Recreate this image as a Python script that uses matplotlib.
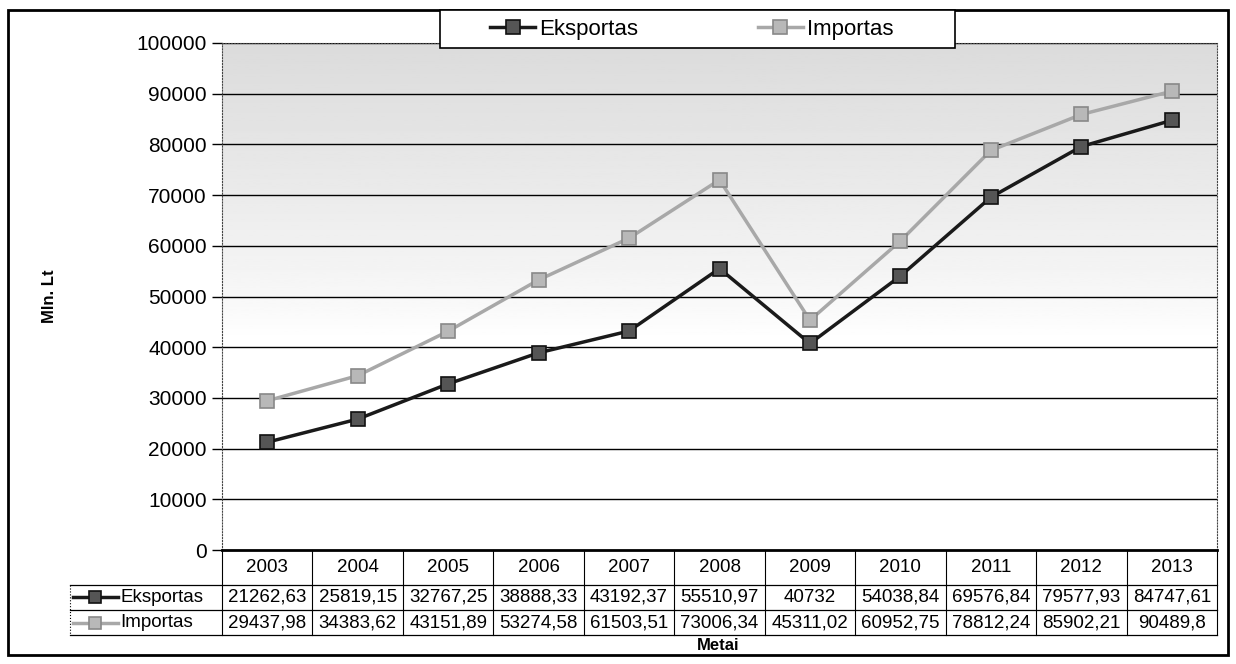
import matplotlib.pyplot as plt
from matplotlib.lines import Line2D
from matplotlib.patches import Rectangle
import numpy as np

plt.rcParams['font.family'] = ['Liberation Sans', 'DejaVu Sans']

years = ["2003", "2004", "2005", "2006", "2007", "2008", "2009", "2010", "2011", "2012", "2013"]
eksportas = [21262.63, 25819.15, 32767.25, 38888.33, 43192.37, 55510.97, 40732, 54038.84, 69576.84, 79577.93, 84747.61]
importas = [29437.98, 34383.62, 43151.89, 53274.58, 61503.51, 73006.34, 45311.02, 60952.75, 78812.24, 85902.21, 90489.8]
eks_labels = ["21262,63", "25819,15", "32767,25", "38888,33", "43192,37", "55510,97", "40732", "54038,84", "69576,84", "79577,93", "84747,61"]
imp_labels = ["29437,98", "34383,62", "43151,89", "53274,58", "61503,51", "73006,34", "45311,02", "60952,75", "78812,24", "85902,21", "90489,8"]
series_names = ["Eksportas", "Importas"]

W, H = 1236, 664
fig = plt.figure(figsize=(W / 100, H / 100), dpi=100)
ax = fig.add_axes([222 / W, 1 - 550 / H, (1217 - 222) / W, (550 - 43) / H])

x = np.arange(len(years))
ax.set_xlim(-0.5, len(years) - 0.5)
ax.set_ylim(0, 100000)

# shaded background, darker at the top, fading out towards the middle
grad = np.linspace(0, 1, 256).reshape(-1, 1)
shade = np.clip((grad - 0.42) / 0.58, 0, 1) ** 0.8
img = 1 - 0.14 * shade
ax.imshow(img, extent=(-0.5, len(years) - 0.5, 0, 100000), origin='lower',
          aspect='auto', cmap='gray', vmin=0, vmax=1, zorder=0)

for v in range(10000, 100001, 10000):
    ax.axhline(v, color='black', lw=1.0, zorder=1)

eks_style = dict(color='#1a1a1a', lw=2.5, marker='s', ms=10, mfc='#555555', mec='#111111', mew=1.2)
imp_style = dict(color='#a8a8a8', lw=2.5, marker='s', ms=10, mfc='#b8b8b8', mec='#888888', mew=1.2)
ax.plot(x, importas, zorder=3, **imp_style)
ax.plot(x, eksportas, zorder=4, **eks_style)

ax.set_yticks(range(0, 100001, 10000))
ax.tick_params(axis='y', labelsize=15, length=7, width=1, direction='out', pad=4)
ax.set_xticks([])
for s in ['left', 'right', 'top']:
    ax.spines[s].set_linestyle(':')
    ax.spines[s].set_color('#444444')
    ax.spines[s].set_linewidth(0.8)
ax.spines['bottom'].set_linewidth(2)

# data table under the plot
tx = ax.get_xaxis_transform()
rows = [0, -0.069, -0.118, -0.168]
left = -0.5 - 152 / 90.45
n = len(years)
for i in range(n + 1):
    ax.plot([i - 0.5, i - 0.5], [rows[0], rows[3]], transform=tx, color='black', lw=0.8, clip_on=False)
ax.plot([left, left], [rows[1], rows[3]], transform=tx, color='black', lw=0.8, ls=':', clip_on=False)
for r in rows[1:]:
    ax.plot([left, n - 0.5], [r, r], transform=tx, color='black', lw=0.9, clip_on=False)
for i, yr in enumerate(years):
    ax.text(i, (rows[0] + rows[1]) / 2, yr, transform=tx, ha='center', va='center', fontsize=13.5)
    ax.text(i, (rows[1] + rows[2]) / 2, eks_labels[i], transform=tx, ha='center', va='center', fontsize=13.5)
    ax.text(i, (rows[2] + rows[3]) / 2, imp_labels[i], transform=tx, ha='center', va='center', fontsize=13.5)

for k, style in enumerate([eks_style, imp_style]):
    yc = (rows[k + 1] + rows[k + 2]) / 2
    sym = dict(style)
    sym['ms'] = 8
    sym['lw'] = 2.5
    ax.add_line(Line2D([left + 0.03, left + 0.28, left + 0.53], [yc, yc, yc], transform=tx, clip_on=False,
                       markevery=[1], **sym))
    ax.text(left + 0.56, yc, series_names[k], transform=tx, ha='left', va='center', fontsize=13.5)

ax.set_ylabel("Mln. Lt", fontsize=12, fontweight='bold')
ax.yaxis.set_label_coords(-0.166, 0.5)
fig.text(718 / W, 1 - 646 / H, "Metai", ha='center', va='center', fontsize=12, fontweight='bold')

# legend box at the top
fig.add_artist(Rectangle((440 / W, 1 - 48 / H), 515 / W, 38 / H, transform=fig.transFigure,
                         facecolor='white', edgecolor='black', lw=1.2, zorder=5))
handles = [Line2D([0], [0], **eks_style), Line2D([0], [0], **imp_style)]
leg = fig.legend(handles, series_names, loc='center', ncol=2, fontsize=16,
                 bbox_to_anchor=(692 / W, 1 - 29 / H), frameon=False,
                 handlelength=2.0, handletextpad=0.2, columnspacing=5.4, borderaxespad=0)
leg.set_zorder(6)

fig.add_artist(Rectangle((8 / W, 1 - 655 / H), 1220 / W, 645 / H, transform=fig.transFigure,
                         fill=False, edgecolor='black', lw=2))

fig.savefig("out.png", dpi=100)
